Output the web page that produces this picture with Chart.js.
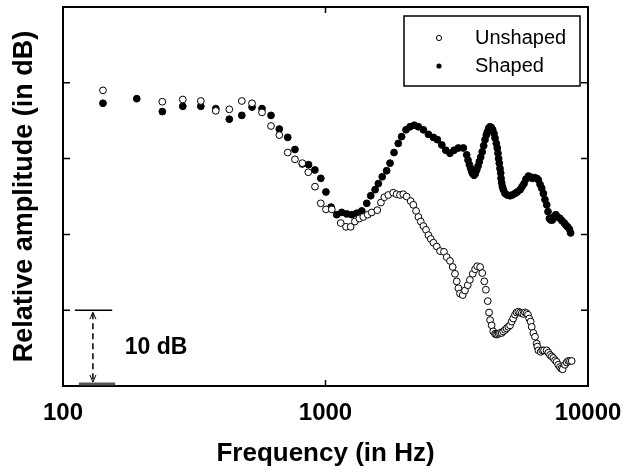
<!DOCTYPE html>
<html>
<head>
<meta charset="utf-8">
<script src="https://cdn.jsdelivr.net/npm/chart.js@4"></script>
<style>
	html, body { margin: 0; padding: 0; background: #fff; }
	#wrap { width: 623px; height: 472px; }
</style>
</head>
<body>
<div id="wrap"><canvas id="myChart" width="623" height="472"></canvas></div>
<script>
// frequencies in Hz, amplitudes in dB (relative, 10 dB per tick)
const unshapedFreq = [142, 239, 286, 335, 382, 430, 480, 525, 573, 620, 667, 718, 765, 816, 860, 912, 959, 1004, 1057,
	1143, 1197, 1247, 1294, 1345, 1393, 1448, 1500, 1575, 1626, 1675, 1734, 1811, 1866, 1922, 1978, 2037, 2111, 2161, 2213,
	2259, 2306, 2360, 2415, 2466, 2517, 2577, 2653, 2731, 2827, 2895, 2980, 3052, 3114, 3162, 3208, 3254, 3333, 3399, 3483,
	3548, 3639, 3715, 3784, 3882, 3955, 4027, 4083, 4150, 4198, 4237, 4295, 4355, 4424, 4462, 4511, 4569, 4621, 4691, 4753,
	4830, 4898, 4970, 5047, 5121, 5188, 5272, 5346, 5427, 5508, 5591, 5675, 5754, 5834, 5907, 5971, 6048, 6103, 6191, 6282,
	6376, 6411, 6471, 6606, 6699, 6799, 6960, 7061, 7165, 7275, 7376, 7489, 7593, 7704, 7817, 7911, 8008, 8169, 8296, 8409,
	8538, 8666];
const unshapedDb = [39.0, 37.5, 37.8, 37.6, 36.3, 36.5, 37.6, 37.3, 36.1, 34.3, 33.1, 30.8, 29.9, 29.4, 28.2, 26.3, 24.1, 23.3, 23.3,
	21.5, 21.0, 21.0, 21.7, 22.1, 22.3, 22.6, 22.9, 23.2, 24.2, 24.9, 25.2, 25.5, 25.3, 25.2, 25.3, 25.0, 24.4, 23.9, 23.1,
	22.3, 21.7, 21.1, 20.6, 19.9, 19.4, 18.9, 18.4, 17.8, 17.7, 17.0, 16.5, 15.7, 14.8, 13.8, 12.9, 12.2, 12.0, 12.6, 13.3,
	14.0, 14.8, 15.4, 15.8, 15.7, 14.9, 13.8, 12.7, 11.2, 9.7, 8.7, 8.0, 7.2, 6.9, 6.8, 6.8, 6.9, 7.0, 7.0, 7.2,
	7.4, 7.6, 7.8, 8.0, 8.5, 8.9, 9.4, 9.7, 9.8, 9.7, 9.6, 9.5, 9.7, 9.6, 9.4, 8.9, 8.5, 7.8, 7.0, 6.5,
	5.6, 5.2, 4.7, 4.5, 4.7, 4.7, 4.7, 4.4, 4.1, 3.9, 3.7, 3.4, 3.2, 2.8, 2.5, 2.3, 2.2, 2.8, 3.1, 3.3,
	3.3, 3.3];

const shapedFreq = [142, 191, 239, 286, 335, 382, 430, 480, 525, 573, 620, 667, 718, 765, 816, 862, 911, 960, 1004, 1050,
	1104, 1153, 1205, 1259, 1316, 1375, 1436, 1487, 1545, 1590, 1645, 1710, 1761, 1824, 1893, 1950, 2026, 2099, 2179, 2258,
	2360, 2466, 2577, 2668, 2773, 2872, 2980, 3090, 3208, 3351, 3451, 3491, 3532, 3574, 3606, 3637, 3681, 3721, 3768, 3811,
	3855, 3902, 3955, 4006, 4052, 4099, 4133, 4185, 4233, 4281, 4335, 4385, 4424, 4474, 4511, 4540, 4567, 4592, 4621, 4650,
	4664, 4691, 4718, 4758, 4830, 4927, 5048, 5147, 5275, 5378, 5512, 5607, 5705, 5805, 5929, 6012, 6139, 6244, 6378, 6467,
	6566, 6661, 6761, 6856, 6964, 7041, 7126, 7211, 7318, 7422, 7537, 7664, 7823, 7962, 8124, 8245, 8356, 8491, 8586];
const shapedDb = [37.3, 37.9, 36.2, 36.9, 36.9, 36.6, 35.2, 35.7, 36.8, 36.6, 35.7, 33.9, 32.8, 31.2, 29.3, 29.2, 28.5, 27.4, 25.6, 23.6,
	22.6, 22.9, 22.7, 22.6, 22.8, 23.1, 24.1, 25.1, 25.9, 26.7, 27.6, 28.4, 29.4, 30.8, 32.0, 32.9, 33.8, 34.2, 34.4, 34.2,
	33.8, 33.2, 32.8, 32.5, 31.8, 31.1, 30.7, 31.1, 31.4, 31.4, 30.5, 29.8, 29.2, 28.7, 28.3, 28.0, 27.8, 28.0, 28.5, 29.0,
	29.6, 30.2, 30.9, 31.7, 32.5, 33.1, 33.5, 34.0, 34.2, 34.1, 33.8, 33.3, 32.7, 32.0, 31.4, 30.7, 30.0, 29.4, 28.7, 28.1,
	27.4, 26.8, 26.3, 25.9, 25.4, 25.2, 25.1, 25.2, 25.4, 25.6, 25.9, 26.3, 26.7, 27.3, 27.7, 27.6, 27.4, 27.5, 27.4, 27.2,
	26.6, 26.1, 25.4, 24.6, 23.9, 23.0, 22.1, 21.9, 21.9, 22.3, 22.6, 22.3, 22.1, 21.8, 21.5, 21.2, 21.0, 20.7, 20.2];

const seriesNames = ['Unshaped', 'Shaped'];
const xTickValues = [100, 1000, 10000];
const yTickValues = [10, 20, 30, 40];
const scaleBarDb = [0, 10]; // the 10 dB bar in the corner
const fontFamily = '"Liberation Sans", Arial, Helvetica, sans-serif';

const toPoints = (xs, ys) => xs.map((x, i) => ({ x: x, y: ys[i] }));

// frame, inward ticks, scale bar, legend box
const decorPlugin = {
	id: 'decor',
	afterDraw: (chart) => {
		const ctx = chart.ctx;
		const a = chart.chartArea;
		const xs = chart.scales.x;
		const ys = chart.scales.y;
		ctx.save();
		ctx.strokeStyle = '#000';
		ctx.lineWidth = 2;
		ctx.strokeRect(a.left, a.top, a.right - a.left, a.bottom - a.top);

		ctx.lineWidth = 1.5;
		ctx.beginPath();
		for (let v of yTickValues) {
			let py = ys.getPixelForValue(v);
			ctx.moveTo(a.left, py);
			ctx.lineTo(a.left + 7, py);
			ctx.moveTo(a.right, py);
			ctx.lineTo(a.right - 7, py);
		}
		let px = xs.getPixelForValue(1000);
		ctx.moveTo(px, a.top);
		ctx.lineTo(px, a.top + 6);
		ctx.moveTo(px, a.bottom);
		ctx.lineTo(px, a.bottom - 6);
		ctx.stroke();

		// 10 dB scale bar
		let yTop = ys.getPixelForValue(scaleBarDb[1]);
		let yBot = ys.getPixelForValue(scaleBarDb[0]) - 2;
		ctx.lineWidth = 1.5;
		ctx.beginPath();
		ctx.moveTo(xs.getPixelForValue(111), yTop);
		ctx.lineTo(xs.getPixelForValue(154), yTop);
		ctx.stroke();
		ctx.strokeStyle = '#555';
		ctx.lineWidth = 3;
		ctx.beginPath();
		ctx.moveTo(xs.getPixelForValue(115), yBot);
		ctx.lineTo(xs.getPixelForValue(158), yBot);
		ctx.stroke();

		let xm = xs.getPixelForValue(130);
		ctx.strokeStyle = '#000';
		ctx.lineWidth = 1.5;
		ctx.setLineDash([6, 4]);
		ctx.beginPath();
		ctx.moveTo(xm, yTop + 3);
		ctx.lineTo(xm, yBot - 3);
		ctx.stroke();
		ctx.setLineDash([]);
		ctx.lineWidth = 1;
		ctx.beginPath();
		ctx.moveTo(xm - 3, yTop + 9);
		ctx.lineTo(xm, yTop + 2);
		ctx.lineTo(xm + 3, yTop + 9);
		ctx.moveTo(xm - 3, yBot - 9);
		ctx.lineTo(xm, yBot - 2);
		ctx.lineTo(xm + 3, yBot - 9);
		ctx.stroke();

		ctx.fillStyle = '#000';
		ctx.font = 'bold 23px ' + fontFamily;
		ctx.textAlign = 'left';
		ctx.textBaseline = 'middle';
		ctx.fillText('10 dB', xs.getPixelForValue(172), ys.getPixelForValue(5));

		// legend
		let lx = a.right - 184;
		let ly = a.top + 9;
		ctx.lineWidth = 1.5;
		ctx.strokeRect(lx, ly, 176, 70);
		ctx.font = '20px ' + fontFamily;
		let rows = [ly + 22, ly + 50];
		rows.forEach((ry, i) => {
			ctx.beginPath();
			ctx.arc(lx + 35, ry, 2.6, 0, Math.PI * 2);
			if (i === 0) {
				ctx.fillStyle = '#fff';
				ctx.fill();
				ctx.lineWidth = 1;
				ctx.stroke();
			} else {
				ctx.fillStyle = '#000';
				ctx.fill();
			}
			ctx.fillStyle = '#000';
			ctx.fillText(seriesNames[i], lx + 71, ry);
		});
		ctx.restore();
	},
};

const ctx = document.getElementById('myChart');
const chart = new Chart(ctx, {
	type: 'scatter',
	data: {
		datasets: [
			{
				label: seriesNames[0],
				data: toPoints(unshapedFreq, unshapedDb),
				pointRadius: 3.4,
				pointBorderWidth: 1,
				pointBorderColor: '#000',
				pointBackgroundColor: '#fff',
			},
			{
				label: seriesNames[1],
				data: toPoints(shapedFreq, shapedDb),
				pointRadius: 3.4,
				pointBorderWidth: 1,
				pointBorderColor: '#000',
				pointBackgroundColor: '#000',
			},
		],
	},
	options: {
		responsive: false,
		animation: false,
		events: [],
		layout: { padding: { top: 7, right: 35, left: 0, bottom: 0 } },
		plugins: { legend: { display: false }, tooltip: { enabled: false } },
		scales: {
			x: {
				type: 'logarithmic',
				min: 100,
				max: 10000,
				grid: { display: false, drawTicks: false },
				border: { display: false },
				afterFit: (s) => {
					s.height = 86;
					s.paddingLeft = 0;
					s.paddingRight = 0;
				},
				afterBuildTicks: (s) => { s.ticks = xTickValues.map((v) => ({ value: v })); },
				ticks: {
					color: '#000',
					padding: 13,
					maxRotation: 0,
					font: { family: fontFamily, size: 24, weight: 'bold' },
					callback: (v) => String(v),
				},
				title: {
					display: true,
					text: 'Frequency (in Hz)',
					color: '#000',
					padding: { top: 0, bottom: 3 },
					font: { family: fontFamily, size: 26, weight: 'bold' },
				},
			},
			y: {
				min: 0,
				max: 50,
				grid: { display: false, drawTicks: false },
				border: { display: false },
				ticks: { display: false },
				afterFit: (s) => { s.width = 63; },
				title: {
					display: true,
					text: 'Relative amplitude (in dB)',
					color: '#000',
					padding: { top: 8, bottom: 0 },
					font: { family: fontFamily, size: 27, weight: 'bold' },
				},
			},
		},
	},
	plugins: [decorPlugin],
});
</script>
</body>
</html>
